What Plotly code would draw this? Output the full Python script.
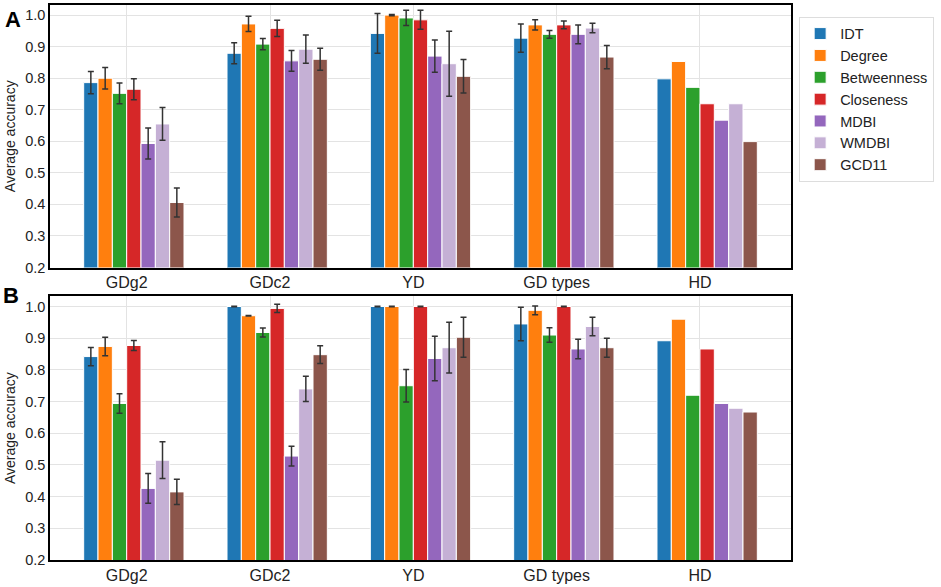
import plotly.graph_objects as go
from plotly.subplots import make_subplots

# categories and methods
categories = ["GDg2", "GDc2", "YD", "GD types", "HD"]
methods = ["IDT", "Degree", "Betweenness", "Closeness", "MDBI", "WMDBI", "GCD11"]
colors = ["#1f77b4", "#ff7f0e", "#2ca02c", "#d62728", "#9467bd", "#c5b0d5", "#8c564b"]

# Panel A: mean accuracy per method (one value per category)
a_idt = [0.786, 0.879, 0.942, 0.927, 0.798]
a_degree = [0.800, 0.972, 1.000, 0.969, 0.853]
a_betweenness = [0.752, 0.908, 0.991, 0.939, 0.771]
a_closeness = [0.765, 0.958, 0.985, 0.969, 0.719]
a_mdbi = [0.593, 0.855, 0.870, 0.939, 0.667]
a_wmdbi = [0.655, 0.892, 0.846, 0.959, 0.719]
a_gcd11 = [0.406, 0.860, 0.806, 0.867, 0.599]

# Panel A: error bars (HD has none, so only 4 entries)
a_idt_err = [0.035, 0.033, 0.063, 0.045]
a_degree_err = [0.034, 0.024, 0.002, 0.016]
a_betweenness_err = [0.033, 0.018, 0.024, 0.012]
a_closeness_err = [0.033, 0.026, 0.030, 0.012]
a_mdbi_err = [0.049, 0.033, 0.051, 0.030]
a_wmdbi_err = [0.052, 0.045, 0.103, 0.015]
a_gcd11_err = [0.046, 0.035, 0.053, 0.037]

# Panel B
b_idt = [0.842, 1.000, 1.000, 0.945, 0.892]
b_degree = [0.874, 0.971, 1.000, 0.988, 0.960]
b_betweenness = [0.694, 0.918, 0.750, 0.910, 0.720]
b_closeness = [0.877, 0.994, 1.000, 1.000, 0.866]
b_mdbi = [0.426, 0.528, 0.836, 0.866, 0.694]
b_wmdbi = [0.515, 0.740, 0.870, 0.937, 0.679]
b_gcd11 = [0.415, 0.848, 0.903, 0.870, 0.667]

b_idt_err = [0.029, 0.001, 0.001, 0.053]
b_degree_err = [0.029, 0.001, 0.001, 0.014]
b_betweenness_err = [0.031, 0.014, 0.051, 0.023]
b_closeness_err = [0.016, 0.013, 0.001, 0.001]
b_mdbi_err = [0.047, 0.031, 0.070, 0.031]
b_wmdbi_err = [0.058, 0.040, 0.080, 0.029]
b_gcd11_err = [0.040, 0.028, 0.063, 0.030]

panel_a = [a_idt, a_degree, a_betweenness, a_closeness, a_mdbi, a_wmdbi, a_gcd11]
panel_a_err = [a_idt_err, a_degree_err, a_betweenness_err, a_closeness_err,
               a_mdbi_err, a_wmdbi_err, a_gcd11_err]
panel_b = [b_idt, b_degree, b_betweenness, b_closeness, b_mdbi, b_wmdbi, b_gcd11]
panel_b_err = [b_idt_err, b_degree_err, b_betweenness_err, b_closeness_err,
               b_mdbi_err, b_wmdbi_err, b_gcd11_err]

FONT = "Arial, Liberation Sans, sans-serif"
bar_w = 0.1
xpos = list(range(len(categories)))

fig = make_subplots(rows=2, cols=1)

for row, (vals, errs) in enumerate([(panel_a, panel_a_err), (panel_b, panel_b_err)], start=1):
    for k, m in enumerate(methods):
        fig.add_trace(
            go.Bar(x=xpos, y=vals[k], name=m,
                   width=bar_w, offset=(k - 3) * bar_w,
                   marker=dict(color=colors[k], line=dict(color="white", width=1)),
                   error_y=dict(type="data", array=errs[k], color="#333333",
                                thickness=1.5, width=3),
                   showlegend=(row == 1)),
            row=row, col=1)

axis_style = dict(showline=True, linecolor="black", linewidth=1.5, mirror=True,
                  showgrid=True, gridcolor="#e3e3e3", gridwidth=1,
                  ticks="", zeroline=False)

for r in (1, 2):
    fig.update_xaxes(range=[-0.535, 4.635], tickvals=xpos, ticktext=categories,
                     tickfont=dict(family=FONT, size=16, color="#222222"),
                     row=r, col=1, **axis_style)
    fig.update_yaxes(range=[0.2, 1.032], dtick=0.1, tickformat=".1f",
                     tickfont=dict(family=FONT, size=14.5, color="#222222"),
                     title=dict(text="Average accuracy", standoff=6,
                                font=dict(family=FONT, size=14, color="#222222")),
                     row=r, col=1, **axis_style)

# panel positions in the page
fig.update_layout(yaxis=dict(domain=[0.527, 1.0]), yaxis2=dict(domain=[0.0, 0.475]))

fig.add_annotation(text="<b>A</b>", xref="paper", yref="paper", x=-0.064, y=1.0,
                   xanchor="left", yanchor="top", showarrow=False,
                   font=dict(family=FONT, size=22, color="black"))
fig.add_annotation(text="<b>B</b>", xref="paper", yref="paper", x=-0.066, y=0.503,
                   xanchor="left", yanchor="top", showarrow=False,
                   font=dict(family=FONT, size=22, color="black"))

fig.update_layout(
    width=941, height=587,
    barmode="overlay",
    plot_bgcolor="white", paper_bgcolor="white",
    margin=dict(l=50, r=150, t=3, b=26),
    font=dict(family=FONT, size=15, color="#222222"),
    legend=dict(x=1.011, y=0.979, xanchor="left", yanchor="top",
                bordercolor="#dddddd", borderwidth=1,
                font=dict(family=FONT, size=14.5, color="#222222"),
                tracegroupgap=0, itemwidth=30),
)

# drop the browser's default page margin so the figure sits at the top-left corner
fig.write_html("out.html", config={"displayModeBar": False},
               post_script="document.body.style.margin='0';")
